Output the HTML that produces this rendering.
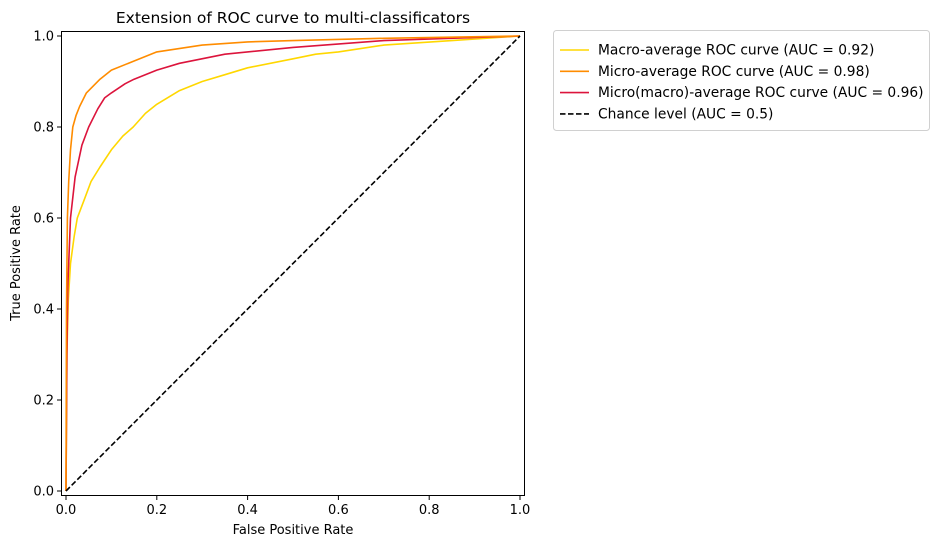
<!DOCTYPE html>
<html><head><meta charset="utf-8"><style>
body{margin:0;background:#fff;}
svg{display:block;font-family:"DejaVu Sans","Liberation Sans",sans-serif;}
</style></head><body>
<svg id="chart" width="941" height="547">
<rect width="941" height="547" fill="#fff"/>
<g id="plot"></g>
</svg>
<script>
const tickVals=[0,0.2,0.4,0.6,0.8,1.0];
const tickLabels=["0.0","0.2","0.4","0.6","0.8","1.0"];
const macroX=[0,0.002,0.005,0.01,0.018,0.025,0.04,0.055,0.075,0.1,0.125,0.148,0.175,0.2,0.25,0.3,0.35,0.4,0.5,0.55,0.6,0.7,0.85,1.0];
const macroY=[0,0.3,0.42,0.5,0.56,0.6,0.64,0.68,0.712,0.75,0.78,0.8,0.83,0.85,0.88,0.9,0.915,0.93,0.95,0.96,0.965,0.98,0.99,1.0];
const microX=[0,0.001,0.003,0.006,0.01,0.015,0.022,0.03,0.045,0.06,0.075,0.1,0.15,0.2,0.3,0.4,0.5,0.7,1.0];
const microY=[0,0.4,0.6,0.68,0.75,0.8,0.825,0.845,0.875,0.89,0.905,0.925,0.945,0.965,0.98,0.987,0.99,0.995,1.0];
const mmX=[0,0.002,0.004,0.01,0.02,0.035,0.05,0.07,0.085,0.1,0.13,0.15,0.2,0.25,0.35,0.5,0.7,1.0];
const mmY=[0,0.3,0.45,0.6,0.69,0.76,0.8,0.84,0.864,0.875,0.895,0.905,0.925,0.94,0.96,0.975,0.99,1.0];
const chanceX=[0,1];
const chanceY=[0,1];
const seriesNames=["Macro-average ROC curve (AUC = 0.92)","Micro-average ROC curve (AUC = 0.98)","Micro(macro)-average ROC curve (AUC = 0.96)","Chance level (AUC = 0.5)"];

const NS="http://www.w3.org/2000/svg";
const g=document.getElementById('plot');
const sx=v=>66+v*454;
const sy=v=>491-v*455;
function el(t,a,p){const e=document.createElementNS(NS,t);for(const k in a)e.setAttribute(k,a[k]);(p||g).appendChild(e);return e;}
function line(xs,ys,color,dash,name){
  const d=xs.map((x,i)=>(i?'L':'M')+sx(x).toFixed(1)+' '+sy(ys[i]).toFixed(1)).join(' ');
  const p=el('path',{d:d,fill:'none',stroke:color,'stroke-width':1.6,'stroke-linejoin':'round','stroke-dasharray':dash||'none'});
  
  
}
line(macroX,macroY,'#ffd700',null,'macro-average-curve');
line(mmX,mmY,'#dc143c',null,'micro-macro-average-curve');
line(microX,microY,'#ff8c00',null,'micro-average-curve');
line(chanceX,chanceY,'#000','5.5,2.5','chance-level-line');
const frame=el('rect',{x:61.5,y:31.5,width:463,height:464,fill:'none',stroke:'#000','stroke-width':1});


tickVals.forEach((v,i)=>{
  el('line',{x1:sx(v),x2:sx(v),y1:495.5,y2:500,stroke:'#000'});
  const tx=el('text',{x:sx(v),y:514,'text-anchor':'middle','font-size':13});
  tx.textContent=tickLabels[i];
  
  
  el('line',{x1:57,x2:61.5,y1:sy(v),y2:sy(v),stroke:'#000'});
  const ty=el('text',{x:54,y:sy(v)+4.5,'text-anchor':'end','font-size':13});
  ty.textContent=tickLabels[i];
  
  
});
const xt=el('text',{x:293,y:534,'text-anchor':'middle','font-size':13});
xt.textContent='False Positive Rate';


const yt=el('text',{x:0,y:0,'text-anchor':'middle','font-size':13,transform:'translate(20,263) rotate(-90)'});
yt.textContent='True Positive Rate';


const tt=el('text',{x:293,y:23,'text-anchor':'middle','font-size':15.5});
tt.textContent='Extension of ROC curve to multi-classificators';


const lg=el('rect',{x:553.5,y:30.5,width:376,height:100,rx:3,fill:'#fff',stroke:'#d0d0d0'});


const cols=['#ffd700','#ff8c00','#dc143c','#000'];
seriesNames.forEach((n,i)=>{
  const y=50+i*21.3;
  el('line',{x1:560,x2:589,y1:y,y2:y,stroke:cols[i],'stroke-width':1.6,'stroke-dasharray':i==3?'5.5,2.5':'none'});
  const t=el('text',{x:598,y:y+4.5,'font-size':13.8});
  t.textContent=n;
  
  
});
</script>
</body></html>
